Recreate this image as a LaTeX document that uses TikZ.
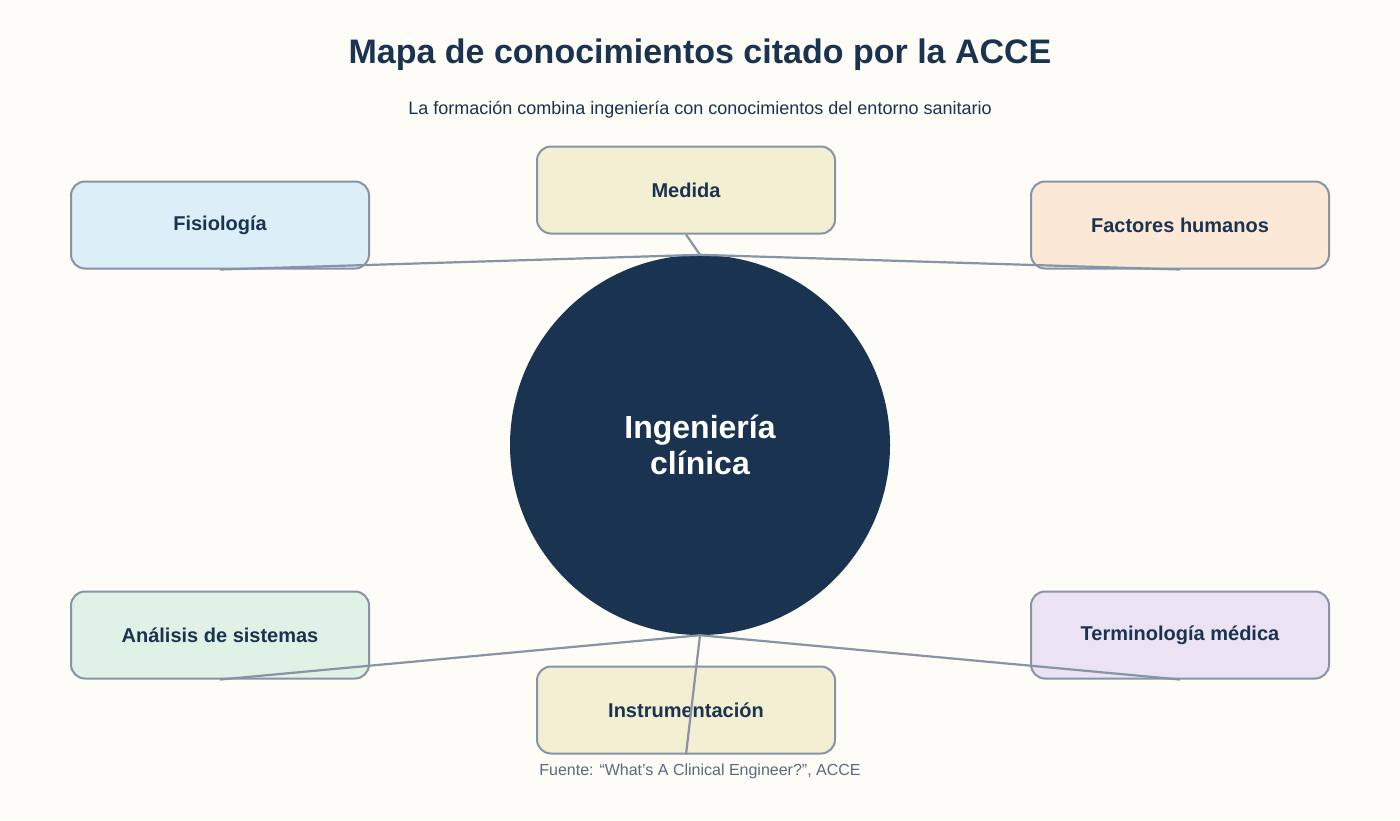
\documentclass[tikz,border=0pt]{standalone}
\usepackage{fontspec}
\setmainfont{Liberation Sans}
\usetikzlibrary{positioning}
\definecolor{navy}{HTML}{1A3350}
\definecolor{bgc}{HTML}{FDFCF6}
\definecolor{edgec}{HTML}{8694A6}
\definecolor{footc}{HTML}{5A6A80}
\definecolor{blue1}{HTML}{DCEEF7}
\definecolor{sand1}{HTML}{F3EFD2}
\definecolor{peach1}{HTML}{FCE8D6}
\definecolor{green1}{HTML}{DFF2E5}
\definecolor{lila1}{HTML}{EBE2F4}
\begin{document}
\begin{tikzpicture}
                [x=1pt, y=-1pt,
                bsty/.style={draw=edgec, line width=2pt, rounded corners=14pt, minimum width=298pt, minimum height=87pt, text=navy, font=\fontsize{20}{24}\selectfont\bfseries},
                csty/.style={circle, fill=navy, minimum size=380pt, inner sep=0pt, text=white, align=center, font=\fontsize{32}{36}\selectfont\bfseries},
                lsty/.style={draw=edgec, line width=2.2pt}]
                \fill[bgc] (0,0) rectangle (1400,820);
                % titles
                \node[text=navy, font=\fontsize{34}{40}\selectfont\bfseries] (title) at (700,55) {Mapa de conocimientos citado por la ACCE};
                \node[text=navy, font=\fontsize{18}{22}\selectfont] (sub) at (700,110) {La formación combina ingeniería con conocimientos del entorno sanitario};
                % nodes
                \node[csty] (core) at (700,445) {Ingeniería\\clínica};
                \node[bsty, fill=sand1]  (med) at (686,190) {Medida};
                \node[bsty, fill=blue1]  (fis) at (220,225) {Fisiología};
                \node[bsty, fill=peach1] (fac) at (1180,225) {Factores humanos};
                \node[bsty, fill=green1] (ana) at (220,635) {Análisis de sistemas};
                \node[bsty, fill=lila1]  (ter) at (1180,635) {Terminología médica};
                \node[bsty, fill=sand1]  (ins) at (686,710) {Instrumentación};
                \node[text=footc, font=\fontsize{16}{20}\selectfont] (src) at (700,771) {Fuente: “What’s A Clinical Engineer?”, ACCE};
                % links
                \draw[lsty] (fis.south) -- (core.north);
                \draw[lsty] (fac.south) -- (core.north);
                \draw[lsty] (med.south) -- (core.north);
                \draw[lsty] (ana.south) -- (core.south);
                \draw[lsty] (ter.south) -- (core.south);
                \draw[lsty] (ins.south) -- (core.south);
            \end{tikzpicture}
\end{document}
